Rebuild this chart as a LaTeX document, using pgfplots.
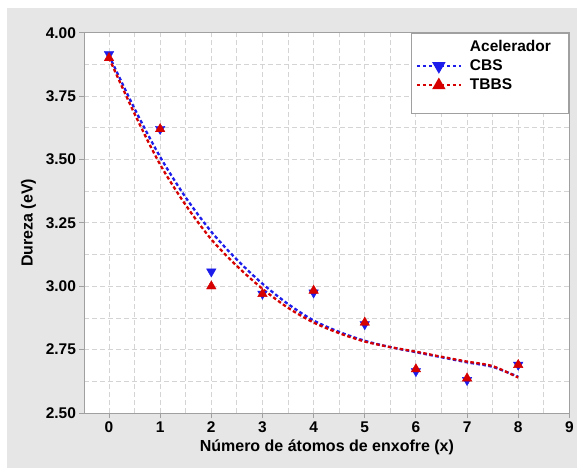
\documentclass[border=0pt]{standalone}
\usepackage{pgfplots}
\pgfplotsset{compat=1.18}
\usepackage{fontspec}
\setmainfont{Liberation Sans}

\definecolor{panelgray}{HTML}{E6E6E6}
\definecolor{gridgray}{HTML}{D4D4D4}
\definecolor{axisgray}{HTML}{A0A0A0}
\definecolor{cbsblue}{HTML}{1C1CEB}
\definecolor{tbbsred}{HTML}{D60000}

\begin{document}
\begin{tikzpicture}[x=1pt,y=1pt]
% page and grey panel
\fill[white] (0,0) rectangle (577,468);
\fill[panelgray] (7,0) rectangle (577,460);
\begin{axis}[
  at={(84.5pt,54.7pt)}, anchor=south west,
  width=485.2pt, height=380.6pt, scale only axis,
  xmin=-0.48, xmax=9, ymin=2.5, ymax=4.0,
  xtick={0,1,2,3,4,5,6,7,8,9},
  ytick={2.5,2.75,3.0,3.25,3.5,3.75,4.0},
  minor x tick num=1, minor y tick num=1,
  grid=both,
  major grid style={gridgray, line width=0.9pt, dash pattern=on 5pt off 3pt},
  minor grid style={gridgray, line width=0.9pt, dash pattern=on 5pt off 3pt},
  axis background/.style={fill=white},
  axis line style={axisgray, line width=1.1pt},
  tick style={axisgray, line width=0.9pt},
  major tick length=5pt, minor tick length=0pt,
  tick align=outside, xtick pos=lower, ytick pos=left,
  /pgf/number format/assume math mode=true,
  yticklabel style={/pgf/number format/fixed, /pgf/number format/fixed zerofill, /pgf/number format/precision=2},
  ticklabel style={font=\fontsize{15.5}{17}\selectfont\bfseries},
  label style={font=\fontsize{16}{18}\selectfont\bfseries},
  xlabel={Número de átomos de enxofre (x)},
  ylabel={Dureza (eV)},
  xlabel style={at={(axis description cs:0.5,0)}, anchor=center, yshift=-34pt},
  ylabel style={at={(axis description cs:0,0.5)}, anchor=center, yshift=56pt},
  legend cell align=left,
  legend style={at={(1,1)}, anchor=north east, draw=axisgray, line width=0.9pt, fill=white,
    font=\fontsize{15.5}{17}\selectfont\bfseries, row sep=3pt,
    inner xsep=4pt, inner ysep=5pt,
    /tikz/every odd column/.append style={column sep=6pt}},
  legend image code/.code={%
    \draw[mark repeat=2,mark phase=2,#1] plot coordinates {(0pt,0pt) (22pt,0pt) (44pt,0pt)};},
]
% fitted curves
\addplot[forget plot, cbsblue, line width=2.3pt, dash pattern=on 3.5pt off 2.5pt, smooth] coordinates {
  (0,3.91) (0.5,3.70) (1.0,3.51) (1.5,3.35) (2.0,3.215) (2.5,3.105) (3.0,3.01)
  (3.5,2.93) (4.0,2.865) (4.5,2.82) (5.0,2.785) (5.5,2.76) (6.0,2.74) (6.5,2.72)
  (7.0,2.70) (7.5,2.682) (8.0,2.643)};
\addplot[forget plot, tbbsred, line width=2.3pt, dash pattern=on 3.5pt off 2.5pt, smooth] coordinates {
  (0,3.90) (0.5,3.68) (1.0,3.48) (1.5,3.32) (2.0,3.185) (2.5,3.08) (3.0,2.99)
  (3.5,2.915) (4.0,2.857) (4.5,2.815) (5.0,2.782) (5.5,2.76) (6.0,2.742) (6.5,2.722)
  (7.0,2.703) (7.5,2.685) (8.0,2.64)};
% measured values
\addplot[forget plot, only marks, mark=triangle*, mark size=5.5pt, mark options={rotate=180, fill=cbsblue, draw=cbsblue}] coordinates {
  (0,3.915) (1,3.62) (2,3.058) (3,2.97) (4,2.975) (5,2.85) (6,2.665) (7,2.63) (8,2.69)};
\addplot[forget plot, only marks, mark=triangle*, mark size=5.5pt, mark options={fill=tbbsred, draw=tbbsred}] coordinates {
  (0,3.90) (1,3.62) (2,3.00) (3,2.97) (4,2.983) (5,2.857) (6,2.673) (7,2.637) (8,2.69)};
% legend
\addlegendimage{empty legend}
\addlegendentry{Acelerador\hspace*{12pt}}
\addlegendimage{cbsblue, line width=2.3pt, dash pattern=on 3.5pt off 2.5pt, mark=triangle*, mark size=5.5pt, mark options={rotate=180, solid, fill=cbsblue}}
\addlegendentry{CBS}
\addlegendimage{tbbsred, line width=2.3pt, dash pattern=on 3.5pt off 2.5pt, mark=triangle*, mark size=5.5pt, mark options={solid, fill=tbbsred}}
\addlegendentry{TBBS}
\addlegendimage{empty legend}
\addlegendentry{\rule{0pt}{6pt}}
\end{axis}
\end{tikzpicture}
\end{document}
